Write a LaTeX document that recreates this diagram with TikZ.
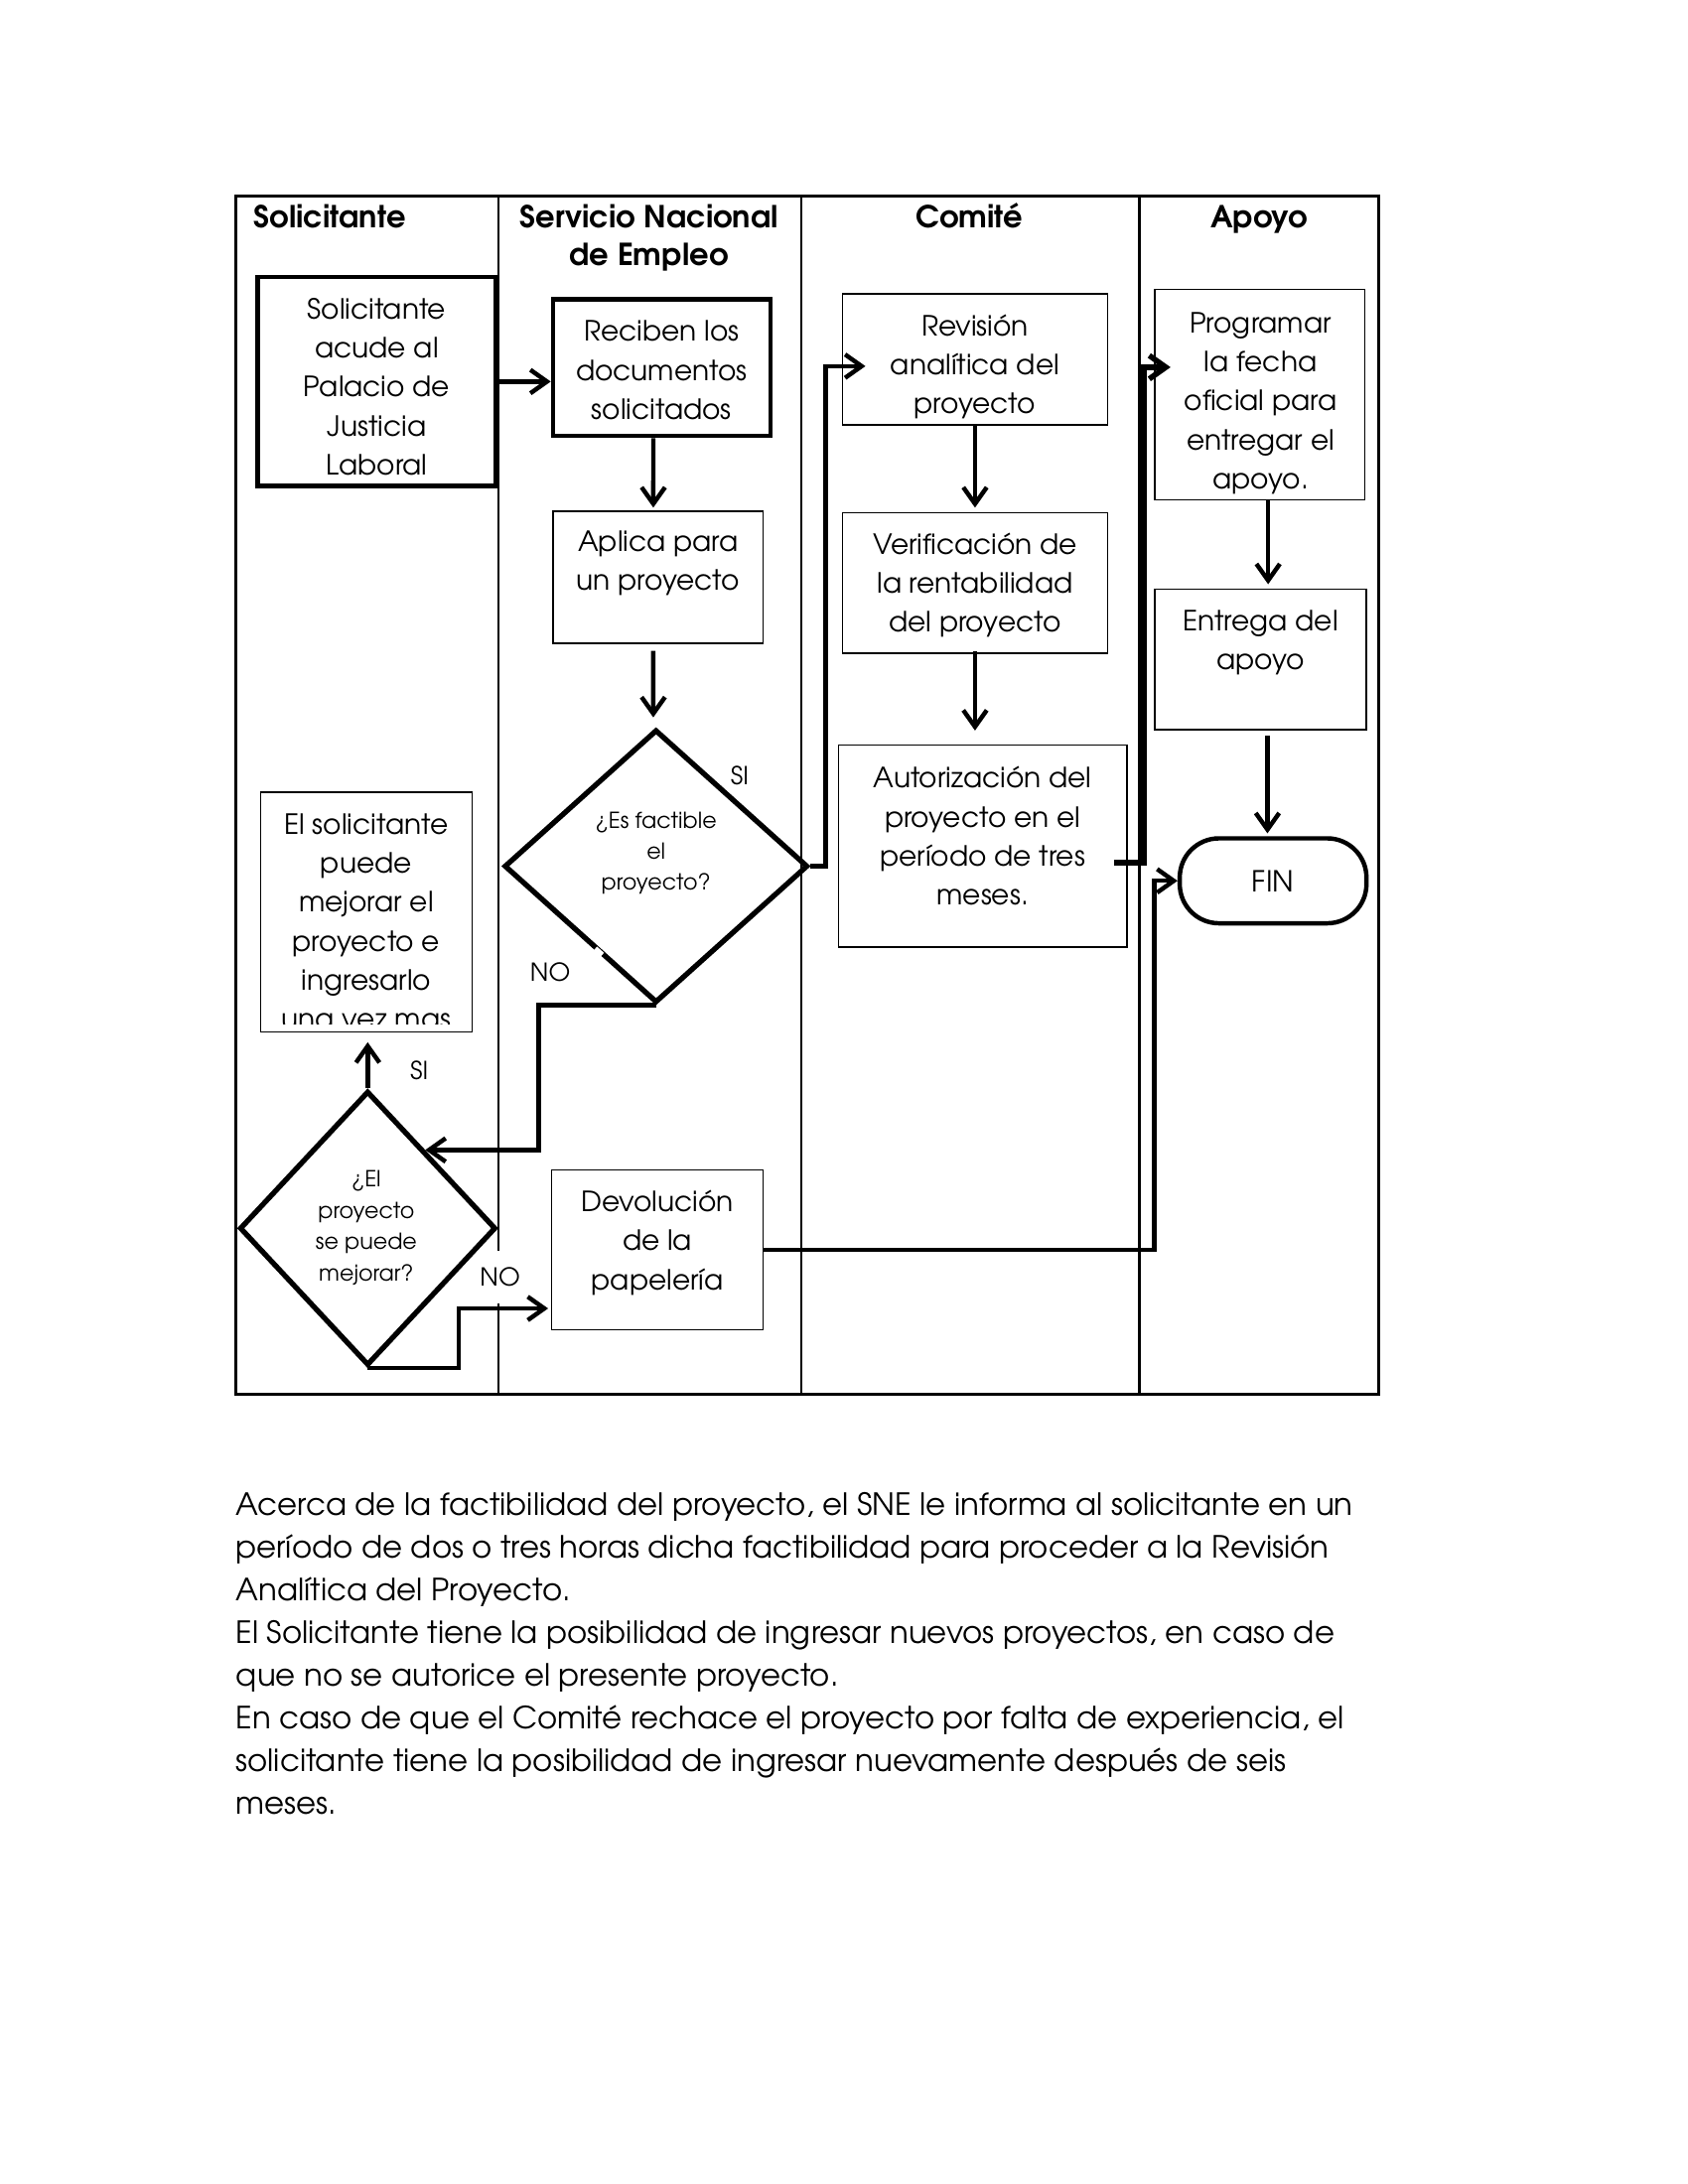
\documentclass[tikz,border=0pt]{standalone}
\usepackage{fontspec}
\setmainfont{texgyreadventor-regular.otf}[BoldFont=texgyreadventor-bold.otf]
\usetikzlibrary{arrows.meta,shapes.geometric,fit,calc}
\begin{document}
\begin{tikzpicture}[x=0.505pt,y=-0.505pt,
  thickbox/.style={draw, line width=1.6pt, inner sep=0pt},
  thinbox/.style={draw, line width=0.5pt, inner sep=0pt},
  boxtxt/.style={font=\fontsize{10.1}{14.15}\selectfont, align=center, inner sep=0pt, anchor=north},
  dtxt/.style={font=\fontsize{8}{11.3}\selectfont, align=center, inner sep=0pt, anchor=north},
  hdr/.style={font=\bfseries\fontsize{11}{13.6}\selectfont, align=center, inner sep=0pt, anchor=north},
  lbl/.style={font=\fontsize{9}{11}\selectfont, inner sep=0pt},
  dec/.style={draw, diamond, line width=1.9pt, inner sep=0pt},
  conn/.style={line width=1.6pt, -{Straight Barb[length=6pt,width=8.5pt]}},
  lane/.style={line width=0.75pt},
  para/.style={font=\fontsize{11.1}{15.45}\selectfont, align=left, inner sep=0pt, anchor=north west}
]
\useasboundingbox (0,0) rectangle (1211.88,1568.32);
\fill[white] (0,0) rectangle (1211.88,1568.32);

% frame and lanes
\draw[line width=1.1pt] (169,141) rectangle (990,1001);
\draw[lane] (358,141) -- (358,1001);
\draw[lane] (575,141) -- (575,1001);
\draw[lane] (818,141) -- (818,1001);

% headers
\node[hdr, anchor=north west] (hSol) at (182,144.5) {\strut Solicitante};
\node[hdr] (hSne) at (466,144.5) {\strut Servicio Nacional\\de Empleo};
\node[hdr] (hCom) at (696,144.5) {\strut Comité};
\node[hdr] (hApo) at (904,144.5) {\strut Apoyo};

% boxes
\node[thickbox, fit={(185,199) (356,349)}] (b1) {};
\node[boxtxt] (b1t) at (270.5,209) {\strut Solicitante\\acude al\\Palacio de\\Justicia\\Laboral};

\node[thickbox, fit={(397,215) (553,313)}] (b2) {};
\node[boxtxt] (b2t) at (475,225) {\strut Reciben los\\documentos\\solicitados};

\node[thinbox, fit={(397,367) (548,462)}] (b3) {};
\node[boxtxt] (b3t) at (472.5,376) {\strut Aplica para\\un proyecto};

\node[thinbox, fit={(605,211) (795,305)}] (rev) {};
\node[boxtxt] (revt) at (700,221) {\strut Revisión\\analítica del\\proyecto};

\node[thinbox, fit={(605,368) (795,469)}] (ver) {};
\node[boxtxt] (vert) at (700,378) {\strut Verificación de\\la rentabilidad\\del proyecto};

\node[thinbox, fit={(602,535) (809,680)}] (aut) {};
\node[boxtxt] (autt) at (705.5,546) {\strut Autorización del\\proyecto en el\\período de tres\\meses.};

\node[thinbox, fit={(829,208) (980,359)}] (prog) {};
\node[boxtxt] (progt) at (905,219) {\strut Programar\\la fecha\\oficial para\\entregar el\\apoyo.};

\node[thinbox, fit={(829,423) (981,524)}] (ent) {};
\node[boxtxt] (entt) at (905,433) {\strut Entrega del\\apoyo};

\node[draw, line width=1.6pt, rounded corners=14.2pt, minimum width=67.7pt, minimum height=30.8pt, inner sep=0pt,
      font=\fontsize{10.5}{14}\selectfont] (fin) at (914,632.5) {FIN};

\node[thinbox, fit={(187,569) (339,741)}] (sol) {};
\begin{scope}
  \clip (187,569) rectangle (339,735);
  \node[boxtxt] (solt) at (263,579) {\strut El solicitante\\puede\\mejorar el\\proyecto e\\ingresarlo\\una vez mas};
\end{scope}

\node[thinbox, fit={(396,840) (548,955)}] (dev) {};
\node[boxtxt] (devt) at (472,850) {\strut Devolución\\de la\\papelería};

% decisions
\node[dec, minimum width=110.1pt, minimum height=99pt] (d1) at (471,622) {};
\draw[white, line width=3pt] ($(d1.west)!0.6!(d1.south)$) -- ($(d1.west)!0.645!(d1.south)$);
\node[dtxt] (d1t) at (471,578.5) {\strut ¿Es factible\\el\\proyecto?};

\node[dec, minimum width=92.9pt, minimum height=99.5pt] (d2) at (264,882) {};
\node[dtxt] (d2t) at (263,836.5) {\strut ¿El\\proyecto\\se puede\\mejorar?};

% labels
\node[lbl] (siA) at (531,557) {SI};
\node[lbl] (noA) at (395,698) {NO};
\node[lbl] (siB) at (301,769) {SI};
\node[lbl, fill=white, minimum height=19pt] (noB) at (359,917) {NO};

% connectors
\draw[conn] (b1.east) -- (b2.west |- b1.east);
\draw[conn] ($(b2.south)+(-3pt,0)$) -- ($(b3.north)+(-1.75pt,1pt)$);
\draw[conn] ($(b3.south)+(-1.75pt,-2.5pt)$) -- ($(d1.north)+(-1pt,3.5pt)$);
\draw[conn] (d1.east) -- ($(d1.east)+(5.5pt,0)$) |- ($(rev.west)+(8.5pt,-2.5pt)$);
\draw[conn] (rev.south) -- ($(ver.north)+(0,1.5pt)$);
\draw[conn] ($(ver.south)+(0,1pt)$) -- ($(ver.south |- aut.north)+(0,5pt)$);
\draw[conn, line width=2pt] ($(aut.east)+(-5pt,-6pt)$) -- ($(aut.east)+(6pt,-6pt)$) |- ($(prog.west)+(6pt,10pt)$);
\draw[conn] ($(prog.south)+(3pt,0)$) -- ($(prog.south |- ent.north)+(3pt,1.5pt)$);
\draw[conn] ($(ent.south)+(2.5pt,-2pt)$) -- ($(ent.south |- fin.north)+(2.5pt,1pt)$);
\draw[conn] (d1.south) -- ($(d1.south)+(-42.5pt,0)$) |- ($(d2.north)!0.44!(d2.east)$);
\draw[conn] (d2.north) -- ($(d2.north |- sol.south)+(0,-3.5pt)$);
\draw[conn] (d2.south) -- ($(d2.south)+(33pt,0)$) |- ($(dev.west)+(-1pt,-21.25pt)$);
\draw[conn] (dev.east) -| ($(fin.west)+(-8.5pt,0)$) -- (fin.west);

% paragraph
\node[para] (txt) at (169,1066.5) {\strut Acerca de la factibilidad del proyecto, el SNE le informa al solicitante en un\\
período de dos o tres horas dicha factibilidad para proceder a la Revisión\\
Analítica del Proyecto.\\
El Solicitante tiene la posibilidad de ingresar nuevos proyectos, en caso de\\
que no se autorice el presente proyecto.\\
En caso de que el Comité rechace el proyecto por falta de experiencia, el\\
solicitante tiene la posibilidad de ingresar nuevamente después de seis\\
meses.};
\end{tikzpicture}
\end{document}
